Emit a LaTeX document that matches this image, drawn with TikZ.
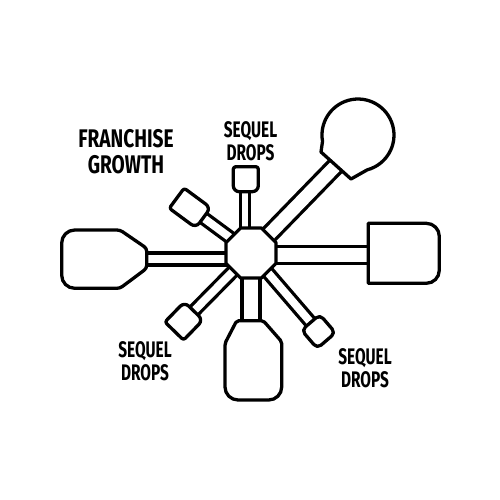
\documentclass[tikz,border=0pt]{standalone}
\usepackage{fontspec}
\newfontfamily\lblfont{Fira Sans}[FakeStretch=0.685]
\newfontfamily\ttlfont{Fira Sans}[FakeStretch=0.75]
\usetikzlibrary{shapes.geometric}
\begin{document}
\begin{tikzpicture}[x=1pt,y=-1pt,line join=round,
  outline/.style={draw=black,line width=3.3pt,fill=white},
  spoke/.style={draw=black,line width=3.3pt,double=white,double distance=#1},
  lbl/.style={font=\lblfont\bfseries\fontsize{22.5}{22.5}\selectfont,align=center,inner sep=0pt},
  ttl/.style={font=\ttlfont\bfseries\fontsize{25.5}{26}\selectfont,align=center,inner sep=0pt}]
\fill[white] (0,0) rectangle (500,500);
\useasboundingbox (0,0) rectangle (500,500);
% named points
\node[regular polygon,regular polygon sides=8,minimum size=54.1pt,inner sep=0pt] (hub) at (251,253) {};
\coordinate (uN) at (245,191.7);
\coordinate (uC) at (245.8,179.2);
\coordinate (ulC) at (190,208);
\coordinate (lN) at (146.7,259);
\coordinate (rN) at (368.3,254.7);
\coordinate (urN) at (336,165.5);
\coordinate (dN) at (251,320.7);
\coordinate (llC) at (184,321);
\coordinate (lrC) at (318.5,331.5);
% spokes
\draw[spoke=6.3] (hub.center -| uN) -- (uN);
\draw[spoke=7.8] (hub.center) -- (ulC);
\draw[spoke=8.8] (hub.center |- lN) -- (lN);
\draw[spoke=13.8] (hub.center |- rN) -- (rN);
\draw[spoke=12.8] (hub.center) -- (urN);
\draw[spoke=14.8] (hub.center) -- (dN);
\draw[spoke=7.8] (hub.center) -- (llC);
\draw[spoke=7.8] (hub.center) -- (lrC);
% hub
\node[regular polygon,regular polygon sides=8,minimum size=54.1pt,inner sep=0pt,outline] at (hub.center) {};
% small heads
\begin{scope}[shift={(uC)},rotate=90]
\draw[outline] (-12.5,0) [rounded corners=6pt] -- (-12.5,-12.5) [rounded corners=2.5pt] -- (12.5,-12.5) -- (12.5,12.5) [rounded corners=6pt] -- (-12.5,12.5) -- cycle;
\end{scope}
\begin{scope}[shift={(ulC)},rotate=143.6]
\draw[outline] (-16.5,0) [rounded corners=6pt] -- (-16.5,-12.5) [rounded corners=2.5pt] -- (16.5,-12.5) -- (16.5,12.5) [rounded corners=6pt] -- (-16.5,12.5) -- cycle;
\end{scope}
\begin{scope}[shift={(llC)},rotate=225.8]
\draw[outline] (-14,0) [rounded corners=6pt] -- (-14,-13) [rounded corners=2.5pt] -- (14,-13) -- (14,13) [rounded corners=6pt] -- (-14,13) -- cycle;
\end{scope}
\begin{scope}[shift={(lrC)},rotate=-49.3]
\draw[outline,rounded corners=5pt] (-12,-12) rectangle (12,12);
\end{scope}
% circle head
\draw[outline] (351,179) -- (367.3,169.8) arc[start angle=75,end angle=-190,radius=36] -- (321,152) -- cycle;
% left head
\draw[outline] (lN |- 0,248.3) [rounded corners=3pt] -- (120,230) [rounded corners=13pt] -- (61.7,230) -- (61.7,288.3) [rounded corners=3pt] -- (120,288.3) -- (146.7,268.3) -- cycle;
% right head
\draw[outline] (368.3,223.3) [rounded corners=13pt] -- (439.3,223.3) -- (439.3,283.3) [sharp corners] -- (368.3,283.3) -- cycle;
% down head
\draw[outline] (236.7,320.7) [rounded corners=2pt] -- (263.3,320.7) -- (281.7,341.7) [rounded corners=13pt] -- (281.7,400) -- (225,400) [rounded corners=2pt] -- (225,343.3) -- cycle;
% labels
\node[ttl] (title) at (126,151.5) {FRANCHISE\\GROWTH};
\node[lbl] (s1) at (250.5,141) {SEQUEL\\DROPS};
\node[lbl] (s2) at (145,361) {SEQUEL\\DROPS};
\node[lbl] (s3) at (365,368) {SEQUEL\\DROPS};
\end{tikzpicture}
\end{document}
